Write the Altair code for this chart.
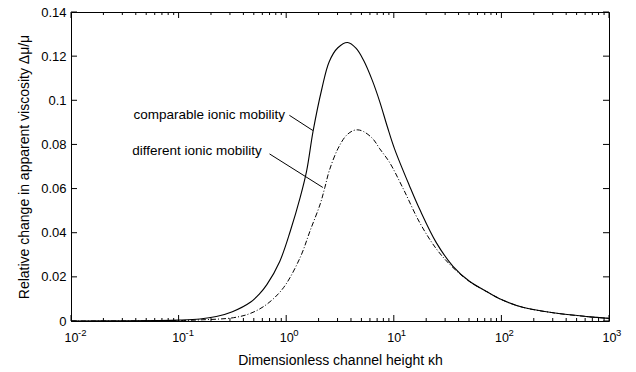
import altair as alt
import pandas as pd

# Solid curve: comparable ionic mobility
kh_solid = [0.01, 0.0316, 0.063, 0.1, 0.158, 0.224, 0.316, 0.468, 0.562, 0.661, 0.871,
            1.096, 1.349, 1.549, 1.778, 2.14, 2.51, 3.02, 3.72, 4.47, 5.25, 6.31,
            7.41, 8.71, 10.16, 14.0, 17.4, 24.9, 35.5, 50.8, 72.6, 100,
            158, 316, 631, 1000]
dmu_solid = [0.0, 0.0001, 0.0002, 0.0004, 0.0009, 0.002, 0.0042, 0.0086, 0.0122, 0.0165, 0.027,
             0.041, 0.056, 0.068, 0.086, 0.105, 0.1175, 0.1238, 0.1262, 0.1235, 0.118, 0.109,
             0.0993, 0.088, 0.078, 0.0612, 0.0506, 0.0354, 0.0248, 0.0179, 0.0134, 0.0097,
             0.0062, 0.0036, 0.002, 0.0012]

# Dash-dot curve: different ionic mobility
kh_dash = [0.01, 0.0316, 0.1, 0.158, 0.324, 0.468, 0.661, 0.944, 1.349, 1.671,
           2.07, 2.29, 2.51, 3.02, 3.61, 4.17, 4.63, 5.25, 6.4, 7.41,
           9.12, 12.3, 17.4, 25.1, 35.5, 50.8, 72.6, 100, 158, 316, 631, 1000]
dmu_dash = [0.0, 0.00003, 0.0002, 0.0005, 0.0015, 0.0035, 0.0076, 0.0151, 0.0288, 0.041,
            0.053, 0.0606, 0.068, 0.078, 0.084, 0.0862, 0.0866, 0.0858, 0.0825, 0.078,
            0.0719, 0.0597, 0.0446, 0.0324, 0.0242, 0.0178, 0.0134, 0.0097, 0.0062, 0.0036, 0.002, 0.0012]

# Annotations
labels = ["comparable ionic mobility", "different ionic mobility"]
label_x = [1.02, 0.62]
label_y = [0.0935, 0.0772]
leader_x1 = [1.07, 0.70]
leader_y1 = [0.0932, 0.0757]
leader_x2 = [1.77, 2.19]
leader_y2 = [0.0863, 0.0605]

x_major = [0.01, 0.1, 1, 10, 100, 1000]
x_exponents = ["-2", "-1", "0", "1", "2", "3"]
x_minor = [m * d for d in [0.01, 0.1, 1, 10, 100] for m in range(2, 10)]
y_ticks = [0, 0.02, 0.04, 0.06, 0.08, 0.1, 0.12, 0.14]

W, H = 538, 309
FONT = "Liberation Sans"

xscale = alt.Scale(type="log", domain=[0.01, 1000], nice=False)
yscale = alt.Scale(domain=[0, 0.14], nice=False, zero=False)

df_s = pd.DataFrame({"kh": kh_solid, "dmu": dmu_solid})
df_d = pd.DataFrame({"kh": kh_dash, "dmu": dmu_dash})

solid = alt.Chart(df_s).mark_line(color="black", strokeWidth=1.1, interpolate="catmull-rom").encode(
    x=alt.X("kh:Q", scale=xscale,
            axis=alt.Axis(values=x_major, labelExpr="'10'", ticks=False, domain=False,
                          grid=False, labelFontSize=12.5, labelPadding=10, labelFont=FONT,
                          labelFlush=False, labelOverlap=False,
                          title="Dimensionless channel height \u03bah", titleFont=FONT,
                          titleFontSize=14, titleFontWeight="normal", titlePadding=10,
                          labelColor="black", titleColor="black")),
    y=alt.Y("dmu:Q", scale=yscale,
            axis=alt.Axis(values=y_ticks, labelExpr="format(datum.value, '~g')", ticks=False,
                          domain=False, grid=False, labelFontSize=13, labelPadding=5,
                          labelFont=FONT, labelFlush=False, labelOverlap=False,
                          title="Relative change in apparent viscosity \u0394\u03bc/\u03bc",
                          titleFont=FONT, titleFontSize=14, titleFontWeight="normal",
                          titleX=-47, titleY=H / 2, titleAlign="center", titleBaseline="middle",
                          labelColor="black", titleColor="black")),
)

dash = alt.Chart(df_d).mark_line(color="black", strokeWidth=1.0, strokeDash=[5, 2, 1, 2],
                                 interpolate="catmull-rom").encode(
    x=alt.X("kh:Q", scale=xscale), y=alt.Y("dmu:Q", scale=yscale))

df_xmaj = pd.DataFrame({"v": x_major, "e": x_exponents})
df_xmin = pd.DataFrame({"v": x_minor})
df_y = pd.DataFrame({"v": y_ticks})

def xticks(df, length):
    b = alt.Chart(df).mark_rule(color="black", strokeWidth=1).encode(
        x=alt.X("v:Q", scale=xscale), y=alt.value(H), y2=alt.value(H - length))
    t = alt.Chart(df).mark_rule(color="black", strokeWidth=1).encode(
        x=alt.X("v:Q", scale=xscale), y=alt.value(0), y2=alt.value(length))
    return [b, t]

exps = alt.Chart(df_xmaj).mark_text(align="left", baseline="top", font=FONT, fontSize=9.5,
                                    color="black", dx=7).encode(
    x=alt.X("v:Q", scale=xscale), y=alt.value(H + 7), text="e:N")

ytl = alt.Chart(df_y).mark_rule(color="black", strokeWidth=1).encode(
    y=alt.Y("v:Q", scale=yscale), x=alt.value(0), x2=alt.value(6))
ytr = alt.Chart(df_y).mark_rule(color="black", strokeWidth=1).encode(
    y=alt.Y("v:Q", scale=yscale), x=alt.value(W), x2=alt.value(W - 6))

df_lab = pd.DataFrame({"t": labels, "x": label_x, "y": label_y})
text = alt.Chart(df_lab).mark_text(align="right", baseline="middle", font=FONT,
                                   fontSize=13.5, color="black", dx=-2).encode(
    x=alt.X("x:Q", scale=xscale), y=alt.Y("y:Q", scale=yscale), text="t:N")

df_lead = pd.DataFrame({"x1": leader_x1, "y1": leader_y1, "x2": leader_x2, "y2": leader_y2})
leaders = alt.Chart(df_lead).mark_rule(color="black", strokeWidth=1).encode(
    x=alt.X("x1:Q", scale=xscale), y=alt.Y("y1:Q", scale=yscale),
    x2="x2:Q", y2="y2:Q")

layers = [solid, dash] + xticks(df_xmaj, 6) + xticks(df_xmin, 3) + [exps, ytl, ytr, text, leaders]

chart = alt.layer(*layers).properties(
    width=W, height=H,
    autosize=alt.AutoSizeParams(type="none"),
    padding={"left": 71, "top": 12, "right": 27, "bottom": 51},
    background="white",
).configure_view(stroke="black", strokeWidth=1)

chart.save("out.html", embed_options={"renderer": "svg", "actions": False})
